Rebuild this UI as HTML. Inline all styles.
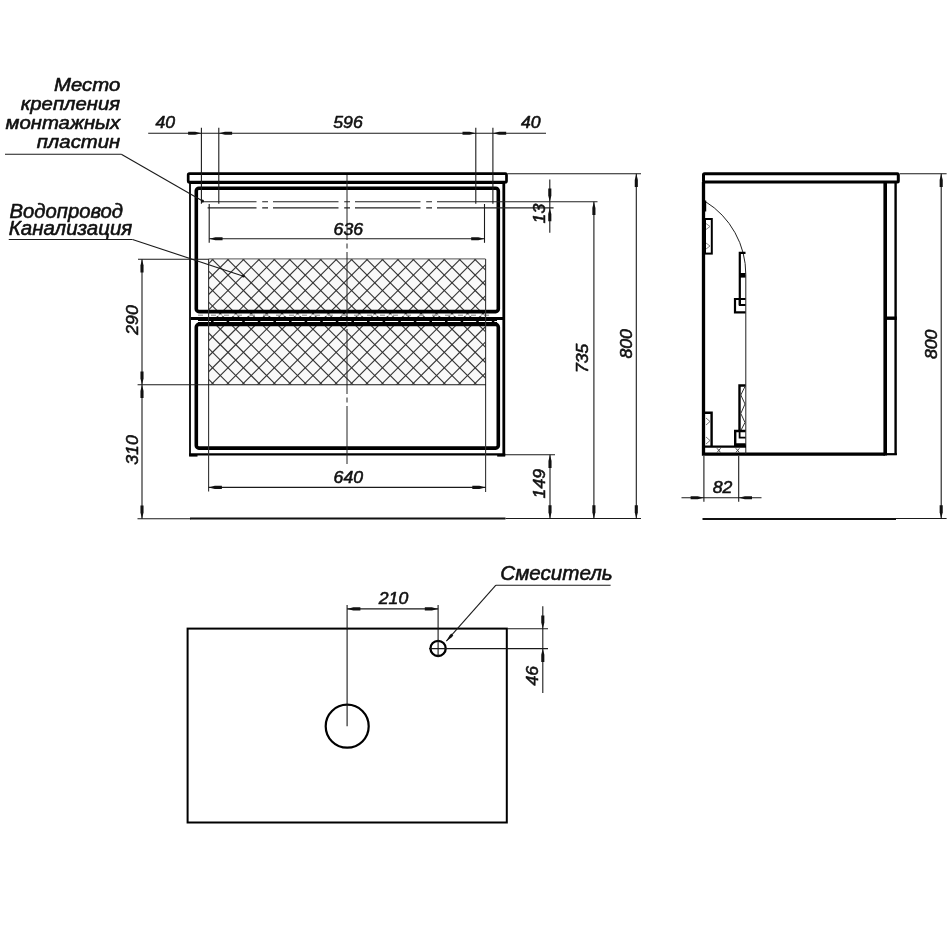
<!DOCTYPE html>
<html><head><meta charset="utf-8"><title>drawing</title>
<style>
html,body{margin:0;padding:0;background:#fff;}
body{width:949px;height:950px;overflow:hidden;}
svg{display:block;}
text{font-family:"Liberation Sans",sans-serif;font-style:italic;fill:#111;stroke:#111;stroke-width:0.56px;stroke-linejoin:round;}
svg{filter:grayscale(1);}
</style></head><body>
<svg width="949" height="950" viewBox="0 0 949 950">
<rect width="949" height="950" fill="#fff"/>
<clipPath id="hc"><rect x="208.5" y="258.9" width="277.0" height="125.70000000000005"/></clipPath>
<rect x="208.5" y="258.9" width="277.0" height="125.70000000000005" fill="#f9f9f9"/>
<g clip-path="url(#hc)" stroke="#333" stroke-width="1.1">
<line x1="215.30" y1="256.9" x2="85.60" y2="386.6"/>
<line x1="230.75" y1="256.9" x2="101.05" y2="386.6"/>
<line x1="246.20" y1="256.9" x2="116.50" y2="386.6"/>
<line x1="261.65" y1="256.9" x2="131.95" y2="386.6"/>
<line x1="277.10" y1="256.9" x2="147.40" y2="386.6"/>
<line x1="292.55" y1="256.9" x2="162.85" y2="386.6"/>
<line x1="308.00" y1="256.9" x2="178.30" y2="386.6"/>
<line x1="323.45" y1="256.9" x2="193.75" y2="386.6"/>
<line x1="338.90" y1="256.9" x2="209.20" y2="386.6"/>
<line x1="354.35" y1="256.9" x2="224.65" y2="386.6"/>
<line x1="369.80" y1="256.9" x2="240.10" y2="386.6"/>
<line x1="385.25" y1="256.9" x2="255.55" y2="386.6"/>
<line x1="400.70" y1="256.9" x2="271.00" y2="386.6"/>
<line x1="416.15" y1="256.9" x2="286.45" y2="386.6"/>
<line x1="431.60" y1="256.9" x2="301.90" y2="386.6"/>
<line x1="447.05" y1="256.9" x2="317.35" y2="386.6"/>
<line x1="462.50" y1="256.9" x2="332.80" y2="386.6"/>
<line x1="477.95" y1="256.9" x2="348.25" y2="386.6"/>
<line x1="493.40" y1="256.9" x2="363.70" y2="386.6"/>
<line x1="508.85" y1="256.9" x2="379.15" y2="386.6"/>
<line x1="524.30" y1="256.9" x2="394.60" y2="386.6"/>
<line x1="539.75" y1="256.9" x2="410.05" y2="386.6"/>
<line x1="555.20" y1="256.9" x2="425.50" y2="386.6"/>
<line x1="570.65" y1="256.9" x2="440.95" y2="386.6"/>
<line x1="586.10" y1="256.9" x2="456.40" y2="386.6"/>
<line x1="601.55" y1="256.9" x2="471.85" y2="386.6"/>
<line x1="617.00" y1="256.9" x2="487.30" y2="386.6"/>
<line x1="86.20" y1="256.9" x2="215.90" y2="386.6"/>
<line x1="101.65" y1="256.9" x2="231.35" y2="386.6"/>
<line x1="117.10" y1="256.9" x2="246.80" y2="386.6"/>
<line x1="132.55" y1="256.9" x2="262.25" y2="386.6"/>
<line x1="148.00" y1="256.9" x2="277.70" y2="386.6"/>
<line x1="163.45" y1="256.9" x2="293.15" y2="386.6"/>
<line x1="178.90" y1="256.9" x2="308.60" y2="386.6"/>
<line x1="194.35" y1="256.9" x2="324.05" y2="386.6"/>
<line x1="209.80" y1="256.9" x2="339.50" y2="386.6"/>
<line x1="225.25" y1="256.9" x2="354.95" y2="386.6"/>
<line x1="240.70" y1="256.9" x2="370.40" y2="386.6"/>
<line x1="256.15" y1="256.9" x2="385.85" y2="386.6"/>
<line x1="271.60" y1="256.9" x2="401.30" y2="386.6"/>
<line x1="287.05" y1="256.9" x2="416.75" y2="386.6"/>
<line x1="302.50" y1="256.9" x2="432.20" y2="386.6"/>
<line x1="317.95" y1="256.9" x2="447.65" y2="386.6"/>
<line x1="333.40" y1="256.9" x2="463.10" y2="386.6"/>
<line x1="348.85" y1="256.9" x2="478.55" y2="386.6"/>
<line x1="364.30" y1="256.9" x2="494.00" y2="386.6"/>
<line x1="379.75" y1="256.9" x2="509.45" y2="386.6"/>
<line x1="395.20" y1="256.9" x2="524.90" y2="386.6"/>
<line x1="410.65" y1="256.9" x2="540.35" y2="386.6"/>
<line x1="426.10" y1="256.9" x2="555.80" y2="386.6"/>
<line x1="441.55" y1="256.9" x2="571.25" y2="386.6"/>
<line x1="457.00" y1="256.9" x2="586.70" y2="386.6"/>
<line x1="472.45" y1="256.9" x2="602.15" y2="386.6"/>
<line x1="487.90" y1="256.9" x2="617.60" y2="386.6"/>
</g>
<line x1="208.5" y1="258.9" x2="485.5" y2="258.9" stroke="#555" stroke-width="1" />
<rect x="188.2" y="173.7" width="318.3" height="8.4" rx="1.2" fill="#fff" stroke="#000" stroke-width="2.7"/>
<line x1="189.2" y1="182.7" x2="505.2" y2="182.7" stroke="#000" stroke-width="2.6" />
<line x1="190.0" y1="182" x2="190.0" y2="455.5" stroke="#000" stroke-width="1.8" />
<line x1="503.8" y1="182" x2="503.8" y2="455.5" stroke="#000" stroke-width="2.8" />
<line x1="189.2" y1="454.4" x2="505.2" y2="454.4" stroke="#000" stroke-width="2.2" />
<line x1="189.1" y1="455.4" x2="197.5" y2="455.4" stroke="#000" stroke-width="2.4" />
<line x1="497.2" y1="455.4" x2="505.2" y2="455.4" stroke="#000" stroke-width="2.4" />
<rect x="196.3" y="188.2" width="302" height="123.4" rx="2.6" fill="none" stroke="#000" stroke-width="3.6"/>
<rect x="196.3" y="324.4" width="302" height="123.7" rx="2.6" fill="none" stroke="#000" stroke-width="3.6"/>
<line x1="191" y1="318.4" x2="503" y2="318.4" stroke="#000" stroke-width="3.0" />
<line x1="198" y1="315.2" x2="497" y2="315.2" stroke="#fff" stroke-width="1.2" />
<line x1="198" y1="315.2" x2="497" y2="315.2" stroke="#888" stroke-width="1.0" stroke-dasharray="5 8"/>
<line x1="198" y1="321.5" x2="497" y2="321.5" stroke="#000" stroke-width="3.2" />
<line x1="198" y1="321.5" x2="497" y2="321.5" stroke="#fff" stroke-width="1.1" stroke-dasharray="13 2.6"/>
<line x1="201.3" y1="201.8" x2="500" y2="201.8" stroke="#222" stroke-width="1.1" stroke-dasharray="65.5 5.7 5.8 5" stroke-dashoffset="10.3"/>
<line x1="207.6" y1="207.9" x2="500" y2="207.9" stroke="#222" stroke-width="1.1" stroke-dasharray="65.5 5.7 5.8 5" stroke-dashoffset="16.6"/>
<line x1="500" y1="201.8" x2="597.5" y2="201.8" stroke="#222" stroke-width="1.1" />
<line x1="500" y1="207.9" x2="553.6" y2="207.9" stroke="#222" stroke-width="1.1" />
<line x1="347" y1="175" x2="347" y2="464" stroke="#222" stroke-width="1.0" stroke-dasharray="65 3.5 5 3.5" stroke-dashoffset="0"/>
<line x1="148.2" y1="133.3" x2="546" y2="133.3" stroke="#1a1a1a" stroke-width="1.1" />
<line x1="201.4" y1="127.8" x2="201.4" y2="203.8" stroke="#1a1a1a" stroke-width="1.1" />
<line x1="218.8" y1="127.8" x2="218.8" y2="203.8" stroke="#1a1a1a" stroke-width="1.1" />
<line x1="475.8" y1="127.8" x2="475.8" y2="203.8" stroke="#1a1a1a" stroke-width="1.1" />
<line x1="492.9" y1="127.8" x2="492.9" y2="203.8" stroke="#1a1a1a" stroke-width="1.1" />
<polygon points="201.40,133.30 195.20,131.75 188.10,131.75 188.10,134.85 195.20,134.85" fill="#111"/>
<polygon points="218.80,133.30 225.00,134.85 232.10,134.85 232.10,131.75 225.00,131.75" fill="#111"/>
<polygon points="475.80,133.30 469.60,131.75 462.50,131.75 462.50,134.85 469.60,134.85" fill="#111"/>
<polygon points="492.90,133.30 499.10,134.85 506.20,134.85 506.20,131.75 499.10,131.75" fill="#111"/>
<text transform="translate(165.3,128.4) scale(1.05,1)" font-size="16.8" text-anchor="middle" font-weight="normal" >40</text>
<text transform="translate(348.0,128.2) scale(1.05,1)" font-size="16.8" text-anchor="middle" font-weight="normal" >596</text>
<text transform="translate(530.8,128.4) scale(1.05,1)" font-size="16.8" text-anchor="middle" font-weight="normal" >40</text>
<line x1="209.2" y1="204" x2="209.2" y2="242.8" stroke="#1a1a1a" stroke-width="1.1" />
<line x1="484.5" y1="204" x2="484.5" y2="242.8" stroke="#1a1a1a" stroke-width="1.1" />
<line x1="209.25" y1="238.75" x2="484.5" y2="238.75" stroke="#1a1a1a" stroke-width="1.1" />
<polygon points="209.25,238.75 215.45,240.30 222.55,240.30 222.55,237.20 215.45,237.20" fill="#111"/>
<polygon points="484.50,238.75 478.30,237.20 471.20,237.20 471.20,240.30 478.30,240.30" fill="#111"/>
<text transform="translate(348.3,234.6) scale(1.05,1)" font-size="16.8" text-anchor="middle" font-weight="normal" >636</text>
<line x1="208.6" y1="258.9" x2="208.6" y2="491.5" stroke="#333" stroke-width="1.1" />
<line x1="485.6" y1="258.9" x2="485.6" y2="491.9" stroke="#333" stroke-width="1.1" />
<line x1="208.6" y1="487.4" x2="485.6" y2="487.4" stroke="#1a1a1a" stroke-width="1.1" />
<polygon points="208.60,487.40 214.80,488.95 221.90,488.95 221.90,485.85 214.80,485.85" fill="#111"/>
<polygon points="485.60,487.40 479.40,485.85 472.30,485.85 472.30,488.95 479.40,488.95" fill="#111"/>
<text transform="translate(348.3,483.2) scale(1.05,1)" font-size="16.8" text-anchor="middle" font-weight="normal" >640</text>
<line x1="138" y1="259.2" x2="208.6" y2="259.2" stroke="#1a1a1a" stroke-width="1.1" />
<line x1="137.6" y1="384.8" x2="486" y2="384.8" stroke="#1a1a1a" stroke-width="1.1" />
<line x1="137.5" y1="518.7" x2="191" y2="518.7" stroke="#1a1a1a" stroke-width="1.1" />
<line x1="142.0" y1="259.2" x2="142.0" y2="518.7" stroke="#1a1a1a" stroke-width="1.1" />
<polygon points="142.00,259.20 140.45,265.40 140.45,272.50 143.55,272.50 143.55,265.40" fill="#111"/>
<polygon points="142.00,384.80 143.55,378.60 143.55,371.50 140.45,371.50 140.45,378.60" fill="#111"/>
<polygon points="142.00,384.80 140.45,391.00 140.45,398.10 143.55,398.10 143.55,391.00" fill="#111"/>
<polygon points="142.00,518.70 143.55,512.50 143.55,505.40 140.45,505.40 140.45,512.50" fill="#111"/>
<text transform="translate(138.3,320) rotate(-90) scale(1.05,1)" font-size="16.8" text-anchor="middle" font-weight="normal" >290</text>
<text transform="translate(138.3,450) rotate(-90) scale(1.05,1)" font-size="16.8" text-anchor="middle" font-weight="normal" >310</text>
<line x1="190" y1="518.6" x2="505.5" y2="518.6" stroke="#111" stroke-width="2.0" />
<line x1="505.5" y1="518.5" x2="641" y2="518.5" stroke="#1a1a1a" stroke-width="1.1" />
<line x1="507.5" y1="173.7" x2="641" y2="173.7" stroke="#1a1a1a" stroke-width="1.1" />
<line x1="549.8" y1="179.5" x2="549.8" y2="232.8" stroke="#1a1a1a" stroke-width="1.1" />
<polygon points="549.80,201.80 551.35,195.60 551.35,188.50 548.25,188.50 548.25,195.60" fill="#111"/>
<polygon points="549.80,207.90 548.25,214.10 548.25,221.20 551.35,221.20 551.35,214.10" fill="#111"/>
<text transform="translate(545,213.6) rotate(-90) scale(1.05,1)" font-size="16.8" text-anchor="middle" font-weight="normal" >13</text>
<line x1="505" y1="454.8" x2="555" y2="454.8" stroke="#1a1a1a" stroke-width="1.1" />
<line x1="550" y1="454.8" x2="550" y2="518.5" stroke="#1a1a1a" stroke-width="1.1" />
<polygon points="550.00,454.80 548.45,461.00 548.45,468.10 551.55,468.10 551.55,461.00" fill="#111"/>
<polygon points="550.00,518.50 551.55,512.30 551.55,505.20 548.45,505.20 548.45,512.30" fill="#111"/>
<text transform="translate(545,483.7) rotate(-90) scale(1.05,1)" font-size="16.8" text-anchor="middle" font-weight="normal" >149</text>
<line x1="593.9" y1="201.8" x2="593.9" y2="518.5" stroke="#1a1a1a" stroke-width="1.1" />
<polygon points="593.90,201.80 592.35,208.00 592.35,215.10 595.45,215.10 595.45,208.00" fill="#111"/>
<polygon points="593.90,518.50 595.45,512.30 595.45,505.20 592.35,505.20 592.35,512.30" fill="#111"/>
<text transform="translate(588.4,358.4) rotate(-90) scale(1.05,1)" font-size="16.8" text-anchor="middle" font-weight="normal" >735</text>
<line x1="636.3" y1="173.7" x2="636.3" y2="518.5" stroke="#1a1a1a" stroke-width="1.1" />
<polygon points="636.30,173.70 634.75,179.90 634.75,187.00 637.85,187.00 637.85,179.90" fill="#111"/>
<polygon points="636.30,518.50 637.85,512.30 637.85,505.20 634.75,505.20 634.75,512.30" fill="#111"/>
<text transform="translate(632,343.8) rotate(-90) scale(1.05,1)" font-size="16.8" text-anchor="middle" font-weight="normal" >800</text>
<text transform="translate(120.2,90.5) scale(1.13,1)" font-size="18" text-anchor="end" font-weight="normal"  stroke-width="0.5">Место</text>
<text transform="translate(120.2,109.7) scale(1.13,1)" font-size="18" text-anchor="end" font-weight="normal"  stroke-width="0.5">крепления</text>
<text transform="translate(120.2,128.9) scale(1.13,1)" font-size="18" text-anchor="end" font-weight="normal"  stroke-width="0.5">монтажных</text>
<text transform="translate(120.2,148.1) scale(1.13,1)" font-size="18" text-anchor="end" font-weight="normal"  stroke-width="0.5">пластин</text>
<line x1="5" y1="154.3" x2="121.3" y2="154.3" stroke="#1a1a1a" stroke-width="1.1" />
<line x1="121.3" y1="154.3" x2="202.6" y2="200.9" stroke="#1a1a1a" stroke-width="1.1" />
<circle cx="202.5" cy="200.9" r="1.5" fill="#111"/>
<text transform="translate(9.5,218) scale(1.04,1)" font-size="19.5" text-anchor="start" font-weight="normal"  stroke-width="0.25">Водопровод</text>
<text transform="translate(8.75,235) scale(1.05,1)" font-size="19.5" text-anchor="start" font-weight="normal"  stroke-width="0.25">Канализация</text>
<line x1="8.75" y1="239.5" x2="132.5" y2="239.5" stroke="#1a1a1a" stroke-width="1.1" />
<line x1="132.5" y1="239.5" x2="243.5" y2="276.2" stroke="#1a1a1a" stroke-width="1.1" />
<circle cx="243.4" cy="276.2" r="1.4" fill="#111"/>
<rect x="703.5" y="173.7" width="194.8" height="8.2" rx="1" fill="#fff" stroke="#000" stroke-width="3"/>
<path d="M703.5 182 V454.1 H885" fill="none" stroke="#000" stroke-width="3.3"/>
<line x1="885.2" y1="182" x2="885.2" y2="455.5" stroke="#000" stroke-width="3.6" />
<line x1="895.6" y1="183" x2="895.6" y2="455" stroke="#000" stroke-width="2.4" />
<line x1="885" y1="454.2" x2="896.8" y2="454.2" stroke="#000" stroke-width="2.2" />
<line x1="885" y1="318.2" x2="896.8" y2="318.2" stroke="#000" stroke-width="3.4" />
<path d="M705.3 201.5 A85.7 85.7 0 0 1 745.8 274.5 V454" fill="none" stroke="#222" stroke-width="1"/>
<line x1="705.4" y1="200.5" x2="705.4" y2="211.5" stroke="#000" stroke-width="1.6" />
<line x1="705" y1="446.7" x2="746" y2="446.7" stroke="#000" stroke-width="2.2" />
<path d="M717.0 448.3 l3.6 4.2 M720.5999999999999 448.3 l-3.6 4.2" stroke="#444" stroke-width="1" fill="none"/>
<path d="M735.8000000000001 448.3 l3.6 4.2 M739.4 448.3 l-3.6 4.2" stroke="#444" stroke-width="1" fill="none"/>
<rect x="705" y="219" width="6.8" height="34.6" fill="none" stroke="#000" stroke-width="2"/>
<path d="M706 223.5 l4 3 l-4 3 M706 243 l4 3 l-4 3" stroke="#777" stroke-width="0.9" fill="none"/>
<path d="M705 412.8 H711.6 V446.5" fill="none" stroke="#000" stroke-width="2.4"/>
<path d="M706 418 l4 3.5 l-4 3.5 M706 437 l4 3.5 l-4 3.5" stroke="#666" stroke-width="0.9" fill="none"/>
<path d="M745.5 252.8 H739.8 V305" fill="none" stroke="#000" stroke-width="2.2"/>
<rect x="740" y="273" width="5.5" height="4.6" fill="#000"/>
<path d="M745.5 299 H735 V312.3 H745.5" fill="none" stroke="#000" stroke-width="2.2"/>
<path d="M739.8 299 V305 H745.5" fill="none" stroke="#000" stroke-width="2"/>
<path d="M745.5 385.5 H739.5 V431" fill="none" stroke="#000" stroke-width="2.4"/>
<path d="M745 386.5 L740.8 395 L745 404 L740.8 413.5 L745 422.5 L740.8 430.5" fill="none" stroke="#333" stroke-width="1"/>
<path d="M745.5 431 H735.2 V444.8 H745.5" fill="none" stroke="#000" stroke-width="2.4"/>
<line x1="735" y1="445" x2="745.5" y2="445" stroke="#000" stroke-width="3" />
<path d="M739.6 431 V437.7 H745.5" fill="none" stroke="#000" stroke-width="1.8"/>
<line x1="703.9" y1="456" x2="703.9" y2="501.7" stroke="#1a1a1a" stroke-width="1.1" />
<line x1="738.7" y1="456" x2="738.7" y2="501.7" stroke="#1a1a1a" stroke-width="1.1" />
<line x1="681.5" y1="497.7" x2="761.5" y2="497.7" stroke="#1a1a1a" stroke-width="1.1" />
<polygon points="703.90,497.70 697.70,496.15 690.60,496.15 690.60,499.25 697.70,499.25" fill="#111"/>
<polygon points="738.70,497.70 744.90,499.25 752.00,499.25 752.00,496.15 744.90,496.15" fill="#111"/>
<text transform="translate(722.6,493.2) scale(1.05,1)" font-size="16.8" text-anchor="middle" font-weight="normal" >82</text>
<line x1="702.5" y1="519" x2="896" y2="519" stroke="#111" stroke-width="2.0" />
<line x1="896" y1="518.5" x2="946.6" y2="518.5" stroke="#1a1a1a" stroke-width="1.1" />
<line x1="900" y1="173.7" x2="946.6" y2="173.7" stroke="#1a1a1a" stroke-width="1.1" />
<line x1="941.2" y1="173.7" x2="941.2" y2="518.5" stroke="#1a1a1a" stroke-width="1.1" />
<polygon points="941.20,173.70 939.65,179.90 939.65,187.00 942.75,187.00 942.75,179.90" fill="#111"/>
<polygon points="941.20,518.50 942.75,512.30 942.75,505.20 939.65,505.20 939.65,512.30" fill="#111"/>
<text transform="translate(936.6,344.3) rotate(-90) scale(1.05,1)" font-size="16.8" text-anchor="middle" font-weight="normal" >800</text>
<rect x="187.6" y="628.6" width="319.2" height="193.9" fill="none" stroke="#000" stroke-width="2"/>
<circle cx="347.2" cy="726.2" r="21.5" fill="none" stroke="#000" stroke-width="2.2"/>
<circle cx="438.1" cy="648.4" r="7.6" fill="none" stroke="#000" stroke-width="2.3"/>
<line x1="347.1" y1="604.9" x2="347.1" y2="726.2" stroke="#1a1a1a" stroke-width="1.1" />
<line x1="438.1" y1="604.9" x2="438.1" y2="657" stroke="#1a1a1a" stroke-width="1.1" />
<line x1="347.1" y1="608.9" x2="438.1" y2="608.9" stroke="#1a1a1a" stroke-width="1.1" />
<polygon points="347.10,608.90 353.30,610.45 360.40,610.45 360.40,607.35 353.30,607.35" fill="#111"/>
<polygon points="438.10,608.90 431.90,607.35 424.80,607.35 424.80,610.45 431.90,610.45" fill="#111"/>
<text transform="translate(393.5,604.2) scale(1.05,1)" font-size="16.8" text-anchor="middle" font-weight="normal" >210</text>
<line x1="507" y1="628.7" x2="548" y2="628.7" stroke="#1a1a1a" stroke-width="1.1" />
<line x1="429" y1="648.6" x2="548" y2="648.6" stroke="#1a1a1a" stroke-width="1.1" />
<line x1="542.8" y1="606.3" x2="542.8" y2="693" stroke="#1a1a1a" stroke-width="1.1" />
<polygon points="542.80,628.70 544.35,622.50 544.35,615.40 541.25,615.40 541.25,622.50" fill="#111"/>
<polygon points="542.80,648.60 541.25,654.80 541.25,661.90 544.35,661.90 544.35,654.80" fill="#111"/>
<text transform="translate(538.2,675.8) rotate(-90) scale(1.05,1)" font-size="16.8" text-anchor="middle" font-weight="normal" >46</text>
<text transform="translate(500.3,579.6) scale(1.03,1)" font-size="20" text-anchor="start" font-weight="normal"  stroke-width="0.25">Смеситель</text>
<line x1="495.9" y1="585.2" x2="610.6" y2="585.2" stroke="#1a1a1a" stroke-width="1.1" />
<line x1="495.9" y1="585.2" x2="446.3" y2="641.2" stroke="#1a1a1a" stroke-width="1.1" />
<polygon points="446.30,641.20 451.45,637.48 453.31,635.38 451.21,633.53 449.36,635.63" fill="#111"/>
</svg>
</body></html>
